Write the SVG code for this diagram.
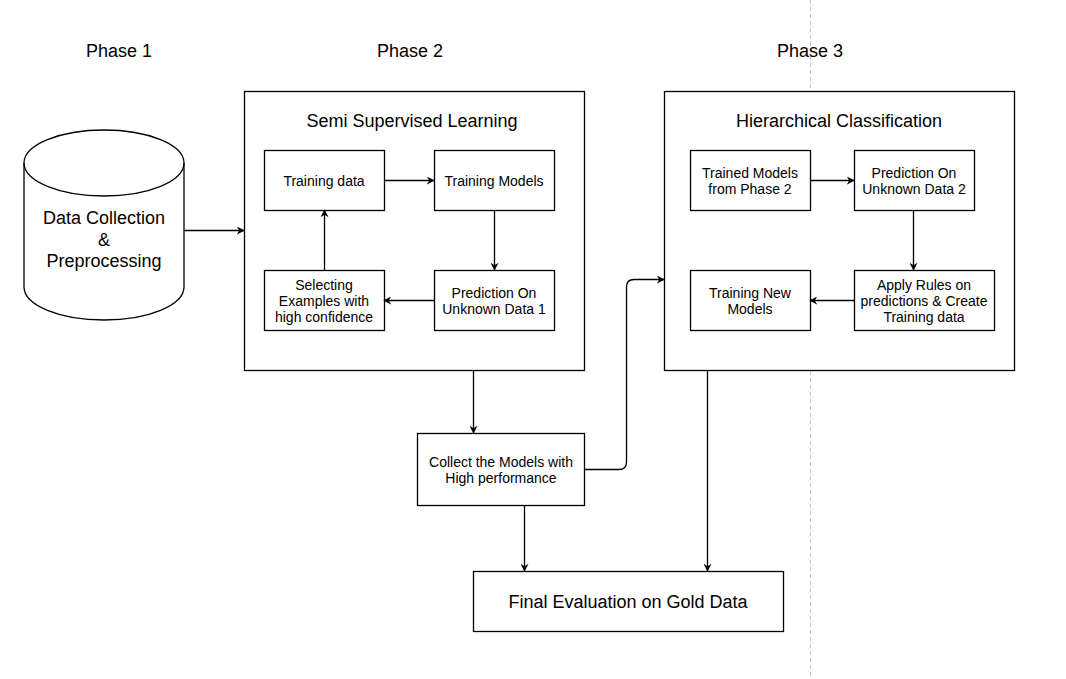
<svg xmlns="http://www.w3.org/2000/svg" width="1066" height="679" viewBox="0 0 1066 679">
<defs>
<marker id="arr" viewBox="0 0 10 10" refX="9" refY="5" markerWidth="8" markerHeight="8" markerUnits="userSpaceOnUse" orient="auto">
<path d="M0,0 L10,5 L0,10 L3,5 Z" fill="#000"/>
</marker>
</defs>
<style>
.box{fill:#fff;stroke:#000;stroke-width:1.3}
.t{font-family:"Liberation Sans",Arial,sans-serif;font-size:14px;fill:#000;text-anchor:middle}
.big{font-family:"Liberation Sans",Arial,sans-serif;font-size:18px;fill:#000;text-anchor:middle}
.c{fill:none;stroke:#000;stroke-width:1.3;marker-end:url(#arr)}
</style>
<rect width="1066" height="679" fill="#fff"/>
<line x1="810.5" y1="0" x2="810.5" y2="679" stroke="#c8c8c8" stroke-width="1" stroke-dasharray="4,3"/>
<g id="labels">
<text class="big" x="119" y="57">Phase 1</text>
<text class="big" x="410" y="57">Phase 2</text>
<text class="big" x="810" y="57">Phase 3</text>
</g>
<g id="data-collection">
<path class="box" d="M24,163 A80,33 0 0 1 184,163 L184,287 A80,33 0 0 1 24,287 Z"/>
<path d="M24,163 A80,33 0 0 0 184,163" fill="none" stroke="#000" stroke-width="1.3"/>
<text class="big" x="104" y="224">Data Collection</text>
<text class="big" x="104" y="246">&amp;</text>
<text class="big" x="104" y="267">Preprocessing</text>
</g>
<g id="phase2">
<rect class="box" x="244.5" y="91.5" width="340" height="279"/>
<text class="big" x="412" y="127">Semi Supervised Learning</text>
</g>
<g id="phase3">
<rect class="box" x="664.5" y="91.5" width="350" height="279"/>
<text class="big" x="839" y="127">Hierarchical Classification</text>
</g>
<g id="training-data">
<rect class="box" x="264.5" y="150.5" width="120" height="60"/>
<text class="t" x="324" y="186">Training data</text>
</g>
<g id="training-models">
<rect class="box" x="434.5" y="150.5" width="120" height="60"/>
<text class="t" x="494" y="186">Training Models</text>
</g>
<g id="selecting">
<rect class="box" x="264.5" y="270.5" width="120" height="60"/>
<text class="t" x="324" y="290">Selecting</text>
<text class="t" x="324" y="306">Examples with</text>
<text class="t" x="324" y="322">high confidence</text>
</g>
<g id="prediction1">
<rect class="box" x="434.5" y="270.5" width="120" height="60"/>
<text class="t" x="494" y="298">Prediction On</text>
<text class="t" x="494" y="314">Unknown Data 1</text>
</g>
<g id="trained-models">
<rect class="box" x="690.5" y="150.5" width="120" height="60"/>
<text class="t" x="750" y="178">Trained Models</text>
<text class="t" x="750" y="194">from Phase 2</text>
</g>
<g id="prediction2">
<rect class="box" x="854.5" y="150.5" width="120" height="60"/>
<text class="t" x="914" y="178">Prediction On</text>
<text class="t" x="914" y="194">Unknown Data 2</text>
</g>
<g id="training-new">
<rect class="box" x="690.5" y="270.5" width="120" height="60"/>
<text class="t" x="750" y="298">Training New</text>
<text class="t" x="750" y="314">Models</text>
</g>
<g id="apply-rules">
<rect class="box" x="854.5" y="270.5" width="140" height="60"/>
<text class="t" x="924" y="290">Apply Rules on</text>
<text class="t" x="924" y="306">predictions &amp; Create</text>
<text class="t" x="924" y="322">Training data</text>
</g>
<g id="collect">
<rect class="box" x="417.5" y="433.5" width="167" height="72"/>
<text class="t" x="501" y="467">Collect the Models with</text>
<text class="t" x="501" y="483">High performance</text>
</g>
<g id="final">
<rect class="box" x="473.5" y="571.5" width="310" height="60"/>
<text class="big" x="628" y="608">Final Evaluation on Gold Data</text>
</g>
<g id="connectors">
<path class="c" d="M184,230.5 L244,230.5"/>
<path class="c" d="M384,180.5 L434,180.5"/>
<path class="c" d="M494.5,210 L494.5,270"/>
<path class="c" d="M434,300.5 L384,300.5"/>
<path class="c" d="M324.5,270 L324.5,210"/>
<path class="c" d="M810,180.5 L854,180.5"/>
<path class="c" d="M913.5,210 L913.5,270"/>
<path class="c" d="M854,300.5 L810,300.5"/>
<path class="c" d="M473.5,370 L473.5,433"/>
<path class="c" d="M584,469.5 L619,469.5 Q626.5,469.5 626.5,462 L626.5,287 Q626.5,279.5 634,279.5 L664,279.5"/>
<path class="c" d="M524.5,505 L524.5,571"/>
<path class="c" d="M707.5,370 L707.5,571"/>
</g>
</svg>
